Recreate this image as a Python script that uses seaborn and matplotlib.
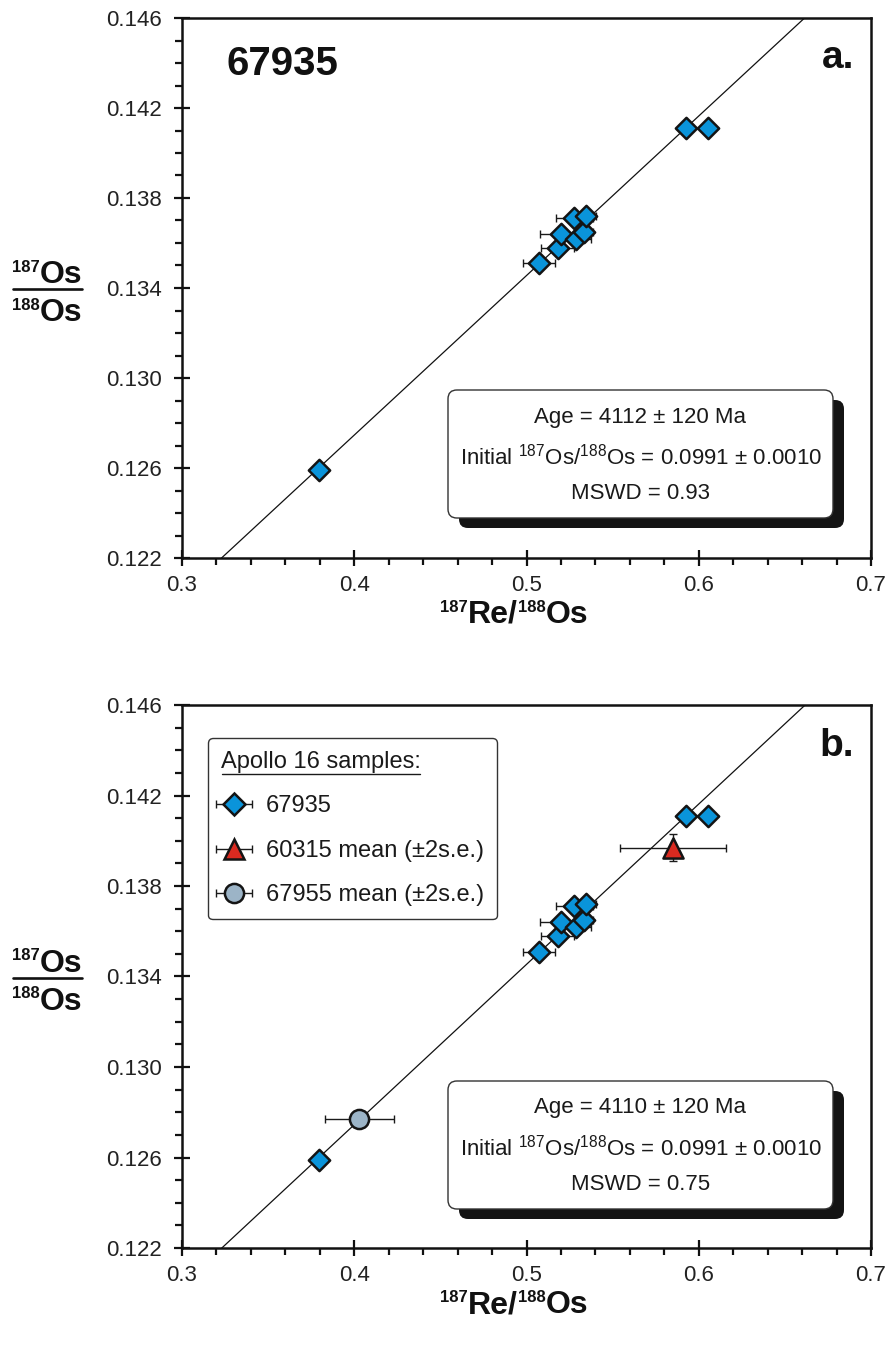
import numpy as np
import matplotlib
matplotlib.use("Agg")
import matplotlib.pyplot as plt
from matplotlib.patches import FancyBboxPatch
from matplotlib.lines import Line2D
from matplotlib.collections import LineCollection
from matplotlib.container import ErrorbarContainer
from matplotlib.legend_handler import HandlerErrorbar
from matplotlib.ticker import MultipleLocator, FixedLocator
import seaborn as sns

# ---------------------------------------------------------------- data
# 67935 analyses: 187Re/188Os, 187Os/188Os and 2-sigma uncertainties
re_os_67935 = [0.3795, 0.5074, 0.5181, 0.5200, 0.5287, 0.5336, 0.5278, 0.5345, 0.5926, 0.6055]
os_os_67935 = [0.1259, 0.1351, 0.1358, 0.1364, 0.1362, 0.1365, 0.1371, 0.1372, 0.1411, 0.1411]
re_os_err_67935 = [0.003, 0.0092, 0.0097, 0.012, 0.0087, 0.005, 0.0106, 0.006, 0.004, 0.004]
os_os_err_67935 = [0.0002, 0.0002, 0.0002, 0.0002, 0.0002, 0.0002, 0.0002, 0.0002, 0.0002, 0.0002]

# sample means (+-2 s.e.)
re_os_60315 = [0.585]
os_os_60315 = [0.1397]
re_os_err_60315 = [0.031]
os_os_err_60315 = [0.0006]

re_os_67955 = [0.403]
os_os_67955 = [0.1277]
re_os_err_67955 = [0.020]
os_os_err_67955 = [0.0003]

# isochron regression results for panels a and b
ages_ma = [4112, 4110]
age_err_ma = [120, 120]
initial_ratio = [0.0991, 0.0991]
initial_err = [0.0010, 0.0010]
mswd = [0.93, 0.75]
panel_letters = ["a.", "b."]

x_ticks = [0.3, 0.4, 0.5, 0.6, 0.7]
x_tick_labels = ["0.3", "0.4", "0.5", "0.6", "0.7"]
y_ticks = [0.122, 0.126, 0.130, 0.134, 0.138, 0.142, 0.146]
y_tick_labels = ["0.122", "0.126", "0.130", "0.134", "0.138", "0.142", "0.146"]

legend_title = "Apollo 16 samples:"
legend_labels = ["67935", "60315 mean (\u00b12s.e.)", "67955 mean (\u00b12s.e.)"]

LAMBDA_RE187 = 1.666e-11  # decay constant, 1/yr

BLUE = "#0A94DA"
RED = "#DA2A20"
GREY = "#9CB4C7"
EDGE = "#141414"
INK = "#111111"

# ---------------------------------------------------------------- style
sns.set_theme(style="white")
plt.rcParams["font.family"] = ["Liberation Sans", "DejaVu Sans"]
plt.rcParams["mathtext.fontset"] = "custom"
plt.rcParams["mathtext.rm"] = "Liberation Sans"
plt.rcParams["mathtext.bf"] = "Liberation Sans:bold"
plt.rcParams["mathtext.it"] = "Liberation Sans:italic"

FIG_W, FIG_H = 891, 1360
fig = plt.figure(figsize=(FIG_W / 100, FIG_H / 100), dpi=100)
fig.patch.set_facecolor("white")
renderer = fig.canvas.get_renderer()


def fx(px):
    return px / FIG_W


def fy(py):
    return 1 - py / FIG_H


def rich_text(pieces, x_px, baseline_px, ha="center"):
    """Lay out (text, fontsize, rise_px) pieces left to right on one baseline."""
    texts = [fig.text(0, 0, s, fontsize=fs, fontweight="bold", color=INK,
                      ha="left", va="baseline") for s, fs, _ in pieces]
    widths = [t.get_window_extent(renderer).width for t in texts]
    x = x_px - (sum(widths) / 2 if ha == "center" else 0)
    for t, w, (_, _, rise) in zip(texts, widths, pieces):
        t.set_position((fx(x), fy(baseline_px - rise)))
        x += w


AX_LEFT, AX_RIGHT = 182, 871
panel_tops = [18, 705]
panel_bottoms = [558, 1248]

MAIN_FS, SUP_FS, SUP_RISE = 23, 12, 11


def style_axes(ax):
    ax.set_xlim(x_ticks[0], x_ticks[-1])
    ax.set_ylim(y_ticks[0], y_ticks[-1])
    ax.xaxis.set_major_locator(FixedLocator(x_ticks))
    ax.yaxis.set_major_locator(FixedLocator(y_ticks))
    ax.set_xticklabels(x_tick_labels)
    ax.set_yticklabels(y_tick_labels)
    ax.xaxis.set_minor_locator(MultipleLocator(0.02))
    ax.yaxis.set_minor_locator(MultipleLocator(0.001))
    for s in ax.spines.values():
        s.set_visible(True)
        s.set_linewidth(1.8)
        s.set_color(INK)
    ax.tick_params(which="both", bottom=True, left=True, top=False, right=False,
                   color=INK, width=1.6)
    ax.tick_params(which="major", direction="inout", length=11, labelsize=16,
                   labelcolor="#222222")
    ax.tick_params(axis="x", which="major", pad=7)
    ax.tick_params(axis="y", which="major", pad=9)
    ax.tick_params(which="minor", direction="out", length=5)
    ax.set_xlabel("")
    ax.set_ylabel("")
    ax.grid(False)


def draw_isochron(ax, age_ma, initial):
    slope = np.expm1(LAMBDA_RE187 * age_ma * 1e6)
    xs = np.array([x_ticks[0], x_ticks[-1]])
    sns.lineplot(x=xs, y=initial + slope * xs, color=INK, linewidth=0.9,
                 ax=ax, zorder=1, legend=False)


def draw_series(ax, xs, ys, xerr, yerr, marker, size, color):
    ax.errorbar(xs, ys, xerr=xerr, yerr=yerr, fmt="none", ecolor="#1a1a1a",
                elinewidth=1.0, capsize=3, capthick=1.0, zorder=2)
    sns.scatterplot(x=xs, y=ys, marker=marker, s=size, color=color,
                    edgecolor=EDGE, linewidth=1.8, ax=ax, zorder=3, legend=False)


def stat_box(top_px, lines):
    x0, x1 = 448, 833
    y0, y1 = top_px, top_px + 128
    w, h = fx(x1) - fx(x0), (y1 - y0) / FIG_H
    asp = FIG_W / FIG_H
    shadow = FancyBboxPatch((fx(x0 + 11), fy(y1 + 10)), w, h,
                            boxstyle="round,pad=0,rounding_size=0.010",
                            mutation_aspect=asp, transform=fig.transFigure,
                            facecolor="#141414", edgecolor="none", zorder=4)
    box = FancyBboxPatch((fx(x0), fy(y1)), w, h,
                         boxstyle="round,pad=0,rounding_size=0.010",
                         mutation_aspect=asp, transform=fig.transFigure,
                         facecolor="white", edgecolor="#333333", linewidth=1.0,
                         zorder=5)
    fig.add_artist(shadow)
    fig.add_artist(box)
    for txt, dy in zip(lines, [27, 67, 103]):
        fig.text(fx((x0 + x1) / 2), fy(top_px + dy), txt, ha="center", va="center",
                 fontsize=16, color="#1a1a1a", zorder=6)


def y_fraction_label(line_py):
    rich_text([("187", SUP_FS, SUP_RISE), ("Os", MAIN_FS, 0)], 47, line_py - 6)
    rich_text([("188", SUP_FS, SUP_RISE), ("Os", MAIN_FS, 0)], 47, line_py + 32)
    fig.add_artist(Line2D([fx(13), fx(82)], [fy(line_py), fy(line_py)],
                          transform=fig.transFigure, color=INK, linewidth=1.9))


axes = []
for i in range(2):
    top, bot = panel_tops[i], panel_bottoms[i]
    ax = fig.add_axes([fx(AX_LEFT), fy(bot), fx(AX_RIGHT) - fx(AX_LEFT),
                       (bot - top) / FIG_H])
    ax.set_facecolor("white")
    draw_isochron(ax, ages_ma[i], initial_ratio[i])
    draw_series(ax, re_os_67935, os_os_67935, re_os_err_67935, os_os_err_67935,
                "D", 118, BLUE)
    if i == 1:
        draw_series(ax, re_os_60315, os_os_60315, re_os_err_60315, os_os_err_60315,
                    "^", 210, RED)
        draw_series(ax, re_os_67955, os_os_67955, re_os_err_67955, os_os_err_67955,
                    "o", 190, GREY)
    style_axes(ax)
    axes.append(ax)

    # panel letter
    ax.text(0.975, 0.925, panel_letters[i], transform=ax.transAxes, ha="right",
            va="center", fontsize=28, fontweight="bold", color=INK)

    # axis titles
    rich_text([("187", SUP_FS, SUP_RISE), ("Re/", MAIN_FS, 0),
               ("188", SUP_FS, SUP_RISE), ("Os", MAIN_FS, 0)], 514, bot + 65)
    y_fraction_label((top + bot) / 2 + 1)

    stat_box(390 if i == 0 else 1081, [
        f"Age = {ages_ma[i]} \u00b1 {age_err_ma[i]} Ma",
        r"Initial $^{\mathrm{187}}$Os/$^{\mathrm{188}}$Os = "
        + f"{initial_ratio[i]:.4f} \u00b1 {initial_err[i]:.4f}",
        f"MSWD = {mswd[i]:.2f}",
    ])

# sample name in panel a
axes[0].text(0.065, 0.915, "67935", transform=axes[0].transAxes, ha="left",
             va="center", fontsize=29, fontweight="bold", color=INK)


# ---------------------------------------------------------------- legend (panel b)
def legend_handle(marker, ms, color):
    data_line = Line2D([], [], marker=marker, markersize=ms, markerfacecolor=color,
                       markeredgecolor=EDGE, markeredgewidth=1.8, linestyle="none")
    cap = Line2D([], [], marker="|", markersize=6, markeredgewidth=1.0,
                 color="#1a1a1a", linestyle="none")
    bars = LineCollection([], colors="#1a1a1a", linewidths=1.0)
    return ErrorbarContainer((data_line, (cap, cap), (bars,)), has_xerr=True,
                             has_yerr=False)


handles = [legend_handle("D", 10.8, BLUE), legend_handle("^", 14.4, RED),
           legend_handle("o", 13.8, GREY)]
leg = axes[1].legend(handles=handles, labels=legend_labels, title=legend_title,
                     loc="upper left", bbox_to_anchor=(fx(208), fy(738)),
                     bbox_transform=fig.transFigure, borderaxespad=0,
                     fontsize=17, title_fontsize=17, alignment="left",
                     handlelength=1.1, handletextpad=0.8, labelspacing=0.95,
                     borderpad=0.55, frameon=True, fancybox=True,
                     handler_map={ErrorbarContainer: HandlerErrorbar(xerr_size=0.78)})
leg.get_frame().set_edgecolor("#333333")
leg.get_frame().set_linewidth(1.0)
leg.get_frame().set_alpha(1)
leg.set_zorder(6)
for t in leg.get_texts():
    t.set_color("#1a1a1a")
leg.get_title().set_color("#1a1a1a")

# underline the legend heading
fig.canvas.draw()
renderer = fig.canvas.get_renderer()
tb = leg.get_title().get_window_extent(renderer)
inv = fig.transFigure.inverted()
(ux0, uy), (ux1, _) = inv.transform([(tb.x0 + 1, tb.y0 - 1), (tb.x1 - 1, tb.y0 - 1)])
fig.add_artist(Line2D([ux0, ux1], [uy, uy], transform=fig.transFigure,
                      color="#1a1a1a", linewidth=1.0, zorder=7))

fig.savefig("out.png", dpi=100, facecolor="white")
